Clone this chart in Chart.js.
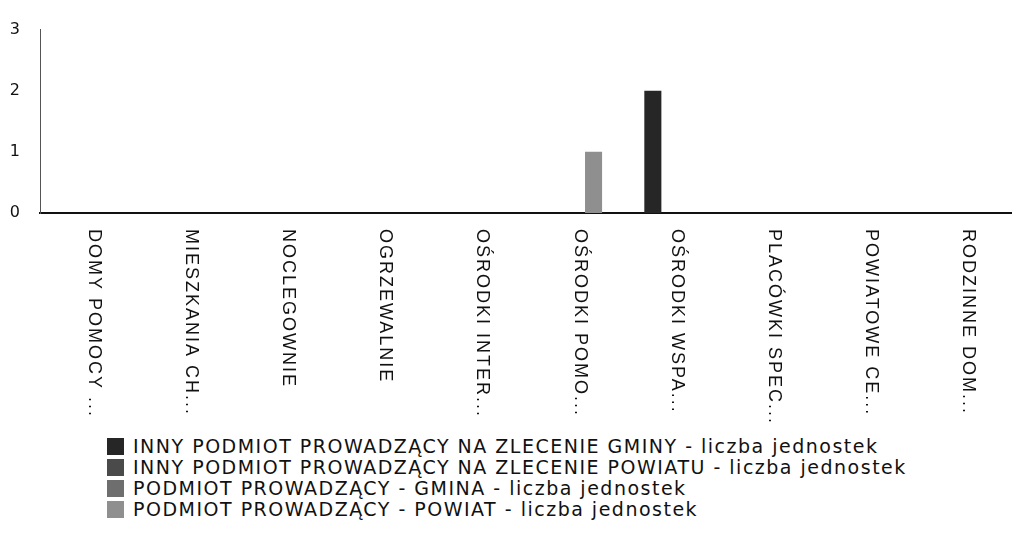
<!DOCTYPE html>
<html lang="pl">
<head>
<meta charset="utf-8">
<title>Liczba jednostek według typu placówki i podmiotu prowadzącego</title>
<script src="https://cdn.jsdelivr.net/npm/chart.js@4.4.1/dist/chart.umd.min.js"></script>
<style>
  html, body { margin: 0; padding: 0; background: #fff; }
  #wrap { position: relative; width: 1012px; height: 540px; overflow: hidden; }
  #chart { position: absolute; left: 0; top: 0; }
  #legend { position: absolute; left: 107px; top: 436px; margin: 0; padding: 0; list-style: none;
            font-family: "DejaVu Sans", Verdana, sans-serif; font-size: 19px; letter-spacing: 1.5px;
            line-height: 21px; color: #111; }
  #legend li { display: flex; align-items: center; white-space: nowrap; }
  #legend .box { display: inline-block; width: 17px; height: 17px; margin-right: 9px; }
</style>
</head>
<body>
<div id="wrap">
  <canvas id="chart" width="1012" height="430"></canvas>
  <ul id="legend"></ul>
</div>
<script>
// Typy placówek (etykiety osi X, skrócone tak jak w raporcie)
const categories = [
  'DOMY POMOCY ...',
  'MIESZKANIA CH...',
  'NOCLEGOWNIE',
  'OGRZEWALNIE',
  'OŚRODKI INTER...',
  'OŚRODKI POMO...',
  'OŚRODKI WSPA...',
  'PLACÓWKI SPEC...',
  'POWIATOWE CE...',
  'RODZINNE DOM...'
];

// Liczba jednostek wg podmiotu prowadzącego
const innyGmina   = [0, 0, 0, 0, 0, 0, 2, 0, 0, 0];
const innyPowiat  = [0, 0, 0, 0, 0, 0, 0, 0, 0, 0];
const gmina       = [0, 0, 0, 0, 0, 0, 0, 0, 0, 0];
const powiat      = [0, 0, 0, 0, 0, 1, 0, 0, 0, 0];

const seriesNames = [
  'INNY PODMIOT PROWADZĄCY NA ZLECENIE GMINY - liczba jednostek',
  'INNY PODMIOT PROWADZĄCY NA ZLECENIE POWIATU - liczba jednostek',
  'PODMIOT PROWADZĄCY - GMINA - liczba jednostek',
  'PODMIOT PROWADZĄCY - POWIAT - liczba jednostek'
];

// Wartości osi Y
const yTicks = [0, 1, 2, 3];

const seriesColors = ['#262626', '#4a4a4a', '#6e6e6e', '#8f8f8f'];

// Etykiety osi X rysowane pionowo, czytane z góry na dół
const verticalLabels = {
  id: 'verticalLabels',
  afterDraw(chart) {
    const sx = chart.scales.x;
    const ctx = chart.ctx;
    ctx.save();
    ctx.font = '18px "Liberation Sans", Arial, sans-serif';
    if ('letterSpacing' in ctx) ctx.letterSpacing = '2px';
    ctx.fillStyle = '#111';
    ctx.textAlign = 'left';
    ctx.textBaseline = 'middle';
    categories.forEach((label, i) => {
      const px = sx.getPixelForTick(i);
      ctx.save();
      ctx.translate(px + 5, sx.top + 16);
      ctx.rotate(Math.PI / 2);
      ctx.fillText(label, 0, 0);
      ctx.restore();
    });
    ctx.restore();
  }
};

const seriesData = [innyGmina, innyPowiat, gmina, powiat];

const chart = new Chart(document.getElementById('chart'), {
  type: 'bar',
  data: {
    labels: categories,
    datasets: seriesData.map((values, i) => ({
      label: seriesNames[i],
      data: values,
      backgroundColor: seriesColors[i],
      borderWidth: 0,
      categoryPercentage: 0.52,
      barPercentage: 1.35
    }))
  },
  options: {
    responsive: false,
    animation: false,
    layout: { padding: { top: 27, right: 0, bottom: 0, left: 0 } },
    plugins: {
      legend: { display: false },
      tooltip: { enabled: false }
    },
    scales: {
      x: {
        grid: { display: false, drawTicks: false },
        border: { display: true, color: '#111', width: 2 },
        ticks: { display: false },
        afterFit(scale) { scale.height = 430 - 213; }
      },
      y: {
        min: 0,
        max: 3,
        afterBuildTicks(scale) { scale.ticks = yTicks.map(v => ({ value: v })); },
        grid: { display: false, drawTicks: false },
        border: { display: true, color: '#555', width: 1, dash: [2, 3] },
        ticks: {
          padding: 20,
          color: '#111',
          font: { family: '"DejaVu Sans", Verdana, sans-serif', size: 16 }
        },
        afterFit(scale) { scale.width = 40; }
      }
    }
  },
  plugins: [verticalLabels]
});

// Legenda w HTML, wyrównana do lewej
const legendEl = document.getElementById('legend');
chart.data.datasets.forEach(ds => {
  const li = document.createElement('li');
  const box = document.createElement('span');
  box.className = 'box';
  box.style.background = ds.backgroundColor;
  li.appendChild(box);
  li.appendChild(document.createTextNode(ds.label));
  legendEl.appendChild(li);
});
</script>
</body>
</html>
